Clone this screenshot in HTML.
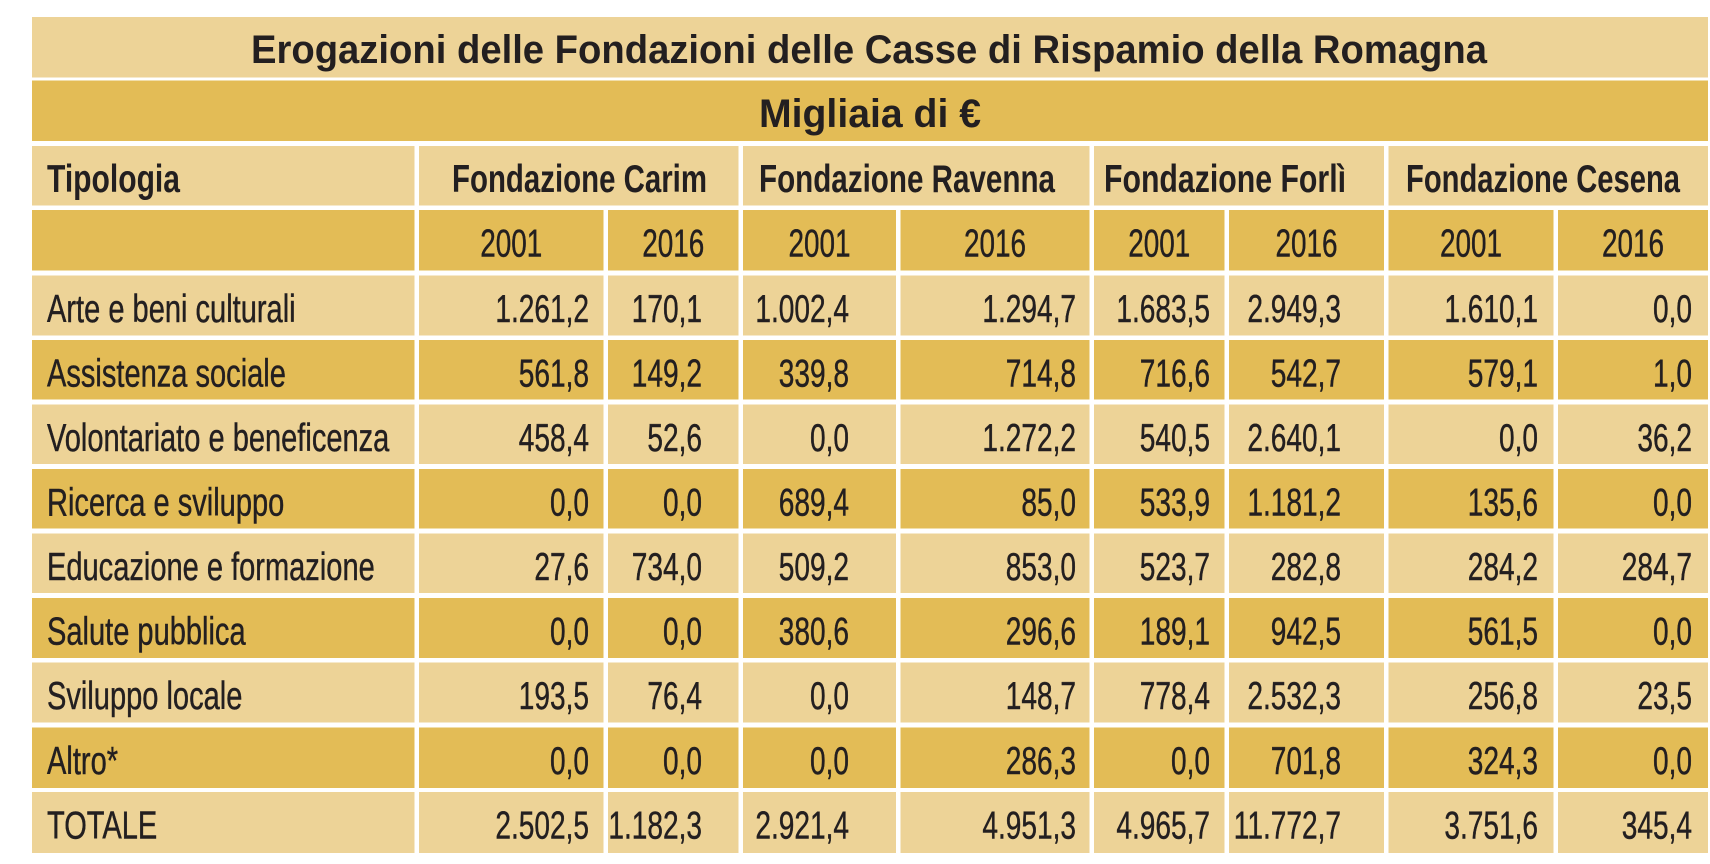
<!DOCTYPE html>
<html>
<head>
<meta charset="utf-8">
<style>
html,body{margin:0;padding:0;background:#fff;}
svg{display:block;}
text{font-family:"Liberation Sans",sans-serif;fill:#231f20;font-size:39px;}
.r{stroke:#231f20;stroke-width:0.45px;}
.b{font-weight:bold;}
</style>
</head>
<body>
<svg width="1710" height="864" viewBox="0 0 1710 864" xmlns="http://www.w3.org/2000/svg">
<rect x="0" y="0" width="1710" height="864" fill="#ffffff"/>
<g id="cells">
<rect x="32" y="17" width="1676" height="60.5" fill="#EDD397"/>
<rect x="32" y="80.5" width="1676" height="60.5" fill="#E3BC56"/>
<rect x="32" y="146" width="382.5" height="59.5" fill="#EDD397"/>
<rect x="419" y="146" width="319.5" height="59.5" fill="#EDD397"/>
<rect x="743" y="146" width="346.5" height="59.5" fill="#EDD397"/>
<rect x="1094" y="146" width="290" height="59.5" fill="#EDD397"/>
<rect x="1388.5" y="146" width="319.5" height="59.5" fill="#EDD397"/>
</g>
<text class="b" x="251" y="63" textLength="1236" lengthAdjust="spacingAndGlyphs" style="font-size:40px">Erogazioni delle Fondazioni delle Casse di Rispamio della Romagna</text>
<text class="b" x="759" y="127" textLength="222" lengthAdjust="spacingAndGlyphs" style="font-size:40px">Migliaia di €</text>
<text class="b" x="47" y="192" textLength="133" lengthAdjust="spacingAndGlyphs">Tipologia</text>
<text class="b" x="452" y="192" textLength="255" lengthAdjust="spacingAndGlyphs">Fondazione Carim</text>
<text class="b" x="759" y="192" textLength="296" lengthAdjust="spacingAndGlyphs">Fondazione Ravenna</text>
<text class="b" x="1104" y="192" textLength="242" lengthAdjust="spacingAndGlyphs">Fondazione Forlì</text>
<text class="b" x="1406" y="192" textLength="274" lengthAdjust="spacingAndGlyphs">Fondazione Cesena</text>
<g id="body"></g>
</svg>
<script>
(function(){
var NS="http://www.w3.org/2000/svg";
var cells=document.getElementById('cells');
var body=document.getElementById('body');
var L="#EDD397",D="#E3BC56";
var cols=[[32,414.5],[419,603.5],[608,738.5],[743,896],[900.5,1089.5],[1094,1224.5],[1229,1384],[1388.5,1553.5],[1558,1708]];
function rect(x,y,w,h,f){var r=document.createElementNS(NS,'rect');r.setAttribute('x',x);r.setAttribute('y',y);r.setAttribute('width',w);r.setAttribute('height',h);r.setAttribute('fill',f);cells.appendChild(r);}
function txt(s,x,y,sx,anchor){var t=document.createElementNS(NS,'text');t.setAttribute('class','r');t.setAttribute('transform','translate('+x+' '+y+') scale('+sx+' 1)');t.setAttribute('text-anchor',anchor);t.textContent=s;body.appendChild(t);}
var yT=210,yB=270.5;
cols.forEach(function(c){rect(c[0],yT,c[1]-c[0],yB-yT,D);});
var yrs=["2001","2016","2001","2016","2001","2016","2001","2016"];
for(var i=1;i<9;i++){txt(yrs[i-1],(cols[i][0]+cols[i][1])/2,256.5,0.715,'middle');}
var tops=[275.5,340,404.5,469,533.5,598,662.5,727.5,792];
var bots=[335.5,399.5,464,528.5,593,658,722.5,788,853];
var rows=[
["Arte e beni culturali","1.261,2","170,1","1.002,4","1.294,7","1.683,5","2.949,3","1.610,1","0,0"],
["Assistenza sociale","561,8","149,2","339,8","714,8","716,6","542,7","579,1","1,0"],
["Volontariato e beneficenza","458,4","52,6","0,0","1.272,2","540,5","2.640,1","0,0","36,2"],
["Ricerca e sviluppo","0,0","0,0","689,4","85,0","533,9","1.181,2","135,6","0,0"],
["Educazione e formazione","27,6","734,0","509,2","853,0","523,7","282,8","284,2","284,7"],
["Salute pubblica","0,0","0,0","380,6","296,6","189,1","942,5","561,5","0,0"],
["Sviluppo locale","193,5","76,4","0,0","148,7","778,4","2.532,3","256,8","23,5"],
["Altro*","0,0","0,0","0,0","286,3","0,0","701,8","324,3","0,0"],
["TOTALE","2.502,5","1.182,3","2.921,4","4.951,3","4.965,7","11.772,7","3.751,6","345,4"]
];
var ends=[589,702,849,1076,1210,1341,1538,1692];
rows.forEach(function(r,ri){
  var f=(ri%2===0)?L:D;
  cols.forEach(function(c){rect(c[0],tops[ri],c[1]-c[0],bots[ri]-tops[ri],f);});
  var by=tops[ri]+46.3;
  txt(r[0],47,by,0.745,'start');
  for(var j=1;j<9;j++){txt(r[j],ends[j-1],by,0.72,'end');}
});
})();
</script>
</body>
</html>
